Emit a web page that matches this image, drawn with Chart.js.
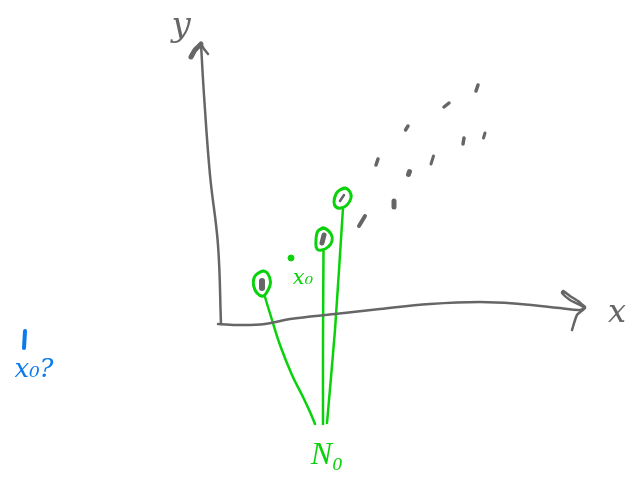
<!DOCTYPE html>
<html><head><meta charset="utf-8">
<style>html,body{margin:0;padding:0;background:#fff}canvas{display:block}</style>
<script src="https://cdn.jsdelivr.net/npm/chart.js@4"></script></head>
<body><canvas id="c" width="637" height="477"></canvas>
<script>
const GRAY='#666666',GREEN='#0ad20a',BLUE='#0a7bee';
const xAxisCurve=[[218,324],[240,325],[265,324],[290,319],[335,314],[380,309],[430,304],[480,302],[520,304],[560,308],[580,310],[585,307]];
const xArrow=[[585,307],[578,301],[570,296],[563,291],[562,293],[570,300],[580,305],[585,308],[577,315],[572,330]];
const yAxisCurve=[[221,324],[218,245],[210,175],[204,95],[201,44]];
const yArrowLeft=[[191,57],[195,50],[201,44]];
const yArrowRight=[[201,44],[204,49],[208,54]];
const circleA=[[257,274],[263,271],[268,274],[270.5,282],[268,290],[263,296],[257,293],[253.5,285],[254,278],[257,274],[263,271]];
const circleB=[[319,230],[324,228],[331,234],[332,241],[328,247],[322,250],[317,249],[316,240],[317,233],[319,230],[324,228]];
const circleC=[[340,190],[345,188],[350,192],[351,198],[347,205],[341,208],[336,207],[334,202],[336,194],[340,190],[345,188]];
const tailA=[[265,297],[272,320],[280,345],[292,375],[303,397],[310,412],[315,424]];
const tailB=[[323.5,250],[323,340],[323,424]];
const tailC=[[343,208],[335,330],[327,423]];
const blueStroke=[[25,331],[24,348]];
const greyMarks=[[476,91,478,85,3.5],[444,107,449,103,3.5],[405.5,130,408,126,3.5],[463,144,464,138,3.5],[483.5,138,485,133,3],[376,165,378,159,3.5],[431,164,433.5,156,3],[408.5,174.5,409.5,171.5,5],[394,207,394,201,5],[359,226,365,216,4],[340,201,344,195,2.5],[322,243,324,235,5],[262,281,262,288,6]];
const greenDot=[[291,258]];
const labels=[['y',181,27,'italic 34px "DejaVu Serif"',GRAY],['x',617,314,'italic 32px "DejaVu Serif"',GRAY],['x₀',303,279,'italic 21px "DejaVu Serif"',GREEN],['N₀',327,456,'italic 32px "Liberation Serif"',GREEN],['x₀?',34,370,'italic 26px "DejaVu Serif"',BLUE]];
const pts=a=>a.map(p=>({x:p[0],y:p[1]}));
const stroke=(a,color,w,t)=>({type:'line',data:pts(a),borderColor:color,borderWidth:w,pointRadius:0,tension:t,fill:false,clip:false,borderCapStyle:'round',borderJoinStyle:'round'});
const markSets=greyMarks.map(m=>stroke([[m[0],m[1]],[m[2],m[3]]],GRAY,m[4],0));
const textPlugin={id:'sketchText',afterDatasetsDraw(ch){const c=ch.ctx;c.save();c.textAlign='center';c.textBaseline='middle';
 for(const [s,x,y,f,col] of labels){c.font=f;c.fillStyle=col;c.fillText(s,ch.scales.x.getPixelForValue(x),ch.scales.y.getPixelForValue(y));}c.restore();}};
new Chart(document.getElementById('c'),{type:'scatter',data:{datasets:[
 stroke(xAxisCurve,GRAY,2.5,.4),stroke(xArrow,GRAY,2.5,.2),stroke(yAxisCurve,GRAY,2.5,.4),
 stroke(yArrowLeft,GRAY,5,.2),stroke(yArrowRight,GRAY,2.5,.2),
 ...markSets,
 stroke(circleA,GREEN,3,.5),stroke(circleB,GREEN,3,.5),stroke(circleC,GREEN,3,.5),
 stroke(tailA,GREEN,2.5,.4),stroke(tailB,GREEN,2.5,.2),stroke(tailC,GREEN,2.5,.2),
 stroke(blueStroke,BLUE,4,0),
 {type:'scatter',data:pts(greenDot),pointStyle:'circle',pointRadius:3,pointBackgroundColor:GREEN,pointBorderColor:GREEN,showLine:false,clip:false}
]},options:{responsive:false,animation:false,layout:{padding:0,autoPadding:false},
 plugins:{legend:{display:false},tooltip:{enabled:false},title:{display:false}},
 scales:{x:{type:'linear',min:0,max:637,display:false},y:{type:'linear',min:0,max:477,reverse:true,display:false}}},plugins:[textPlugin]});
</script></body></html>
